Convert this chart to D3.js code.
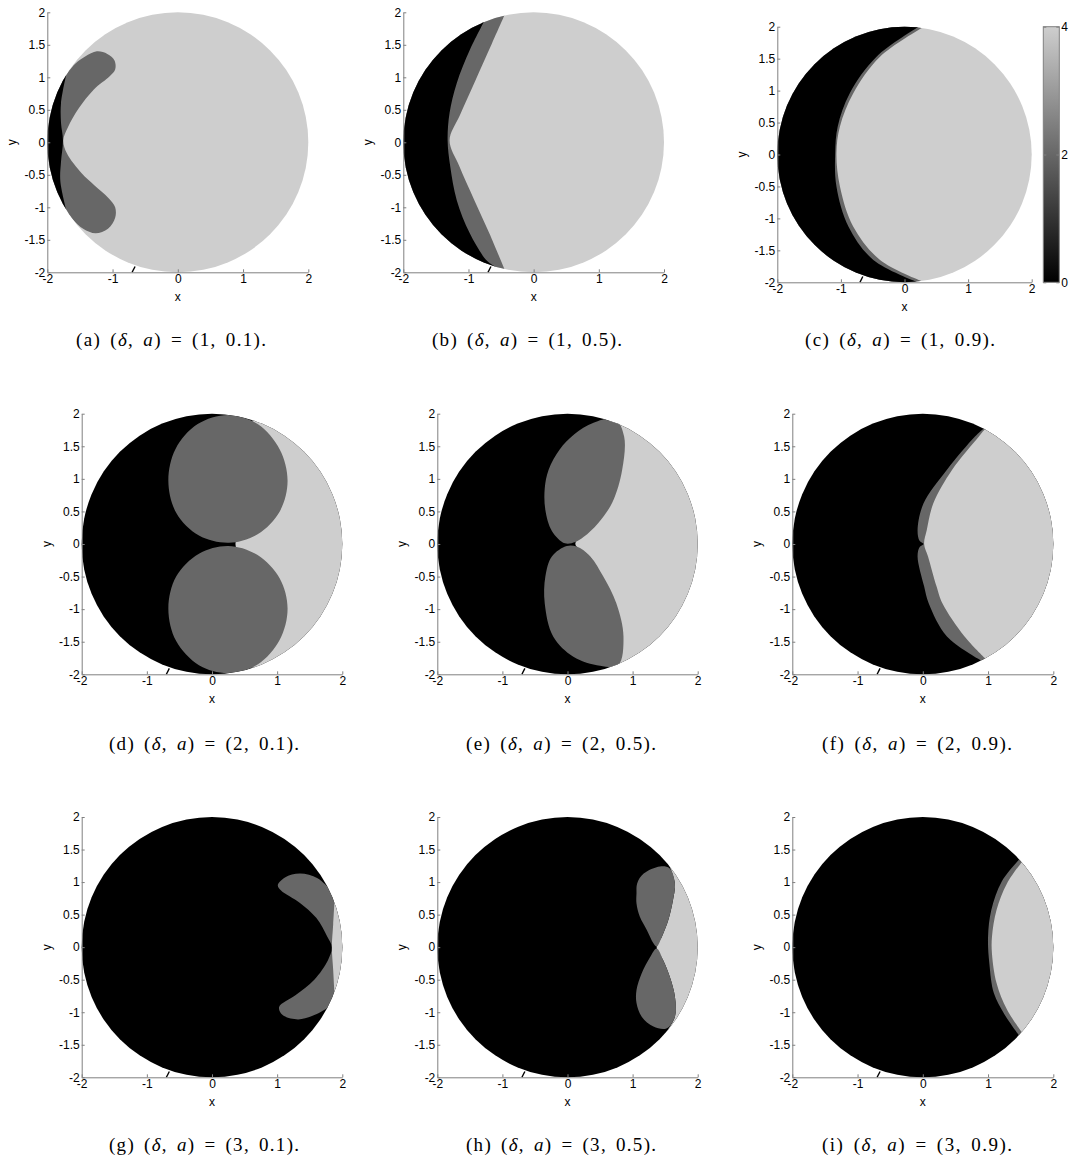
<!DOCTYPE html>
<html>
<head>
<meta charset="utf-8">
<script src="https://cdn.jsdelivr.net/npm/d3@7"></script>
<style>
  body { margin: 0; background: #fff; }
  .axis .tick text { font-family: "Liberation Sans", Arial, sans-serif; font-size: 12px; fill: #000; }
  .axis path, .axis line { stroke: #808080; }
  .lbl { font-family: "Liberation Sans", Arial, sans-serif; font-size: 12px; fill: #000; }
  .cap { font-family: "Liberation Serif", "Times New Roman", serif; font-size: 19px; word-spacing: 3px; fill: #000; }
</style>
</head>
<body>
<svg id="chart" width="1070" height="1164"></svg>
<script>
// panel parameters
const panelIds = ['a', 'b', 'c', 'd', 'e', 'f', 'g', 'h', 'i'];
const deltaValues = ['1', '1', '1', '2', '2', '2', '3', '3', '3'];
const aValues = ['0.1', '0.5', '0.9', '0.1', '0.5', '0.9', '0.1', '0.5', '0.9'];
const baseLevels = [4, 4, 4, 0, 0, 0, 0, 0, 0];

const xTickValues = [-2, -1, 0, 1, 2];
const yTickValues = [-2, -1.5, -1, -0.5, 0, 0.5, 1, 1.5, 2];
const colorbarTicks = [0, 2, 4];

// small stroke at the bottom edge seen in every panel
const strayMark = [[-0.70, -2.0], [-0.655, -1.91]];

// region boundaries, (x, y) in data units
// (a)
const aDarkEdge = [[-1.71, 1.04], [-1.58, 1.20], [-1.42, 1.32], [-1.24, 1.40], [-1.08, 1.36], [-0.97, 1.26], [-0.96, 1.12], [-1.04, 1.02], [-1.29, 0.81], [-1.52, 0.52], [-1.68, 0.24], [-1.755, 0.03], [-1.70, -0.17], [-1.47, -0.48], [-1.28, -0.66], [-1.06, -0.86], [-0.96, -1.00], [-0.96, -1.16], [-1.07, -1.33], [-1.26, -1.40], [-1.45, -1.33], [-1.60, -1.20], [-1.71, -1.06]];
const aDarkOuter = [[-2.3, -1.06], [-2.3, 1.04]];
const aBlackEdge = [[-1.71, 1.04], [-1.79, 0.60], [-1.79, 0.30], [-1.76, 0.03], [-1.79, -0.30], [-1.80, -0.60], [-1.71, -1.04]];
const aBlackOuter = [[-2.3, -1.04], [-2.3, 1.04]];
// (b)
const bDarkEdge = [[-0.44, 1.97], [-0.64, 1.52], [-0.89, 0.96], [-1.13, 0.42], [-1.29, 0.03], [-1.14, -0.37], [-0.91, -0.89], [-0.68, -1.40], [-0.44, -1.97]];
const bDarkOuter = [[-0.44, -2.3], [-2.3, -2.3], [-2.3, 2.3], [-0.44, 2.3]];
const bBlackEdge = [[-0.76, 1.86], [-0.98, 1.42], [-1.18, 0.91], [-1.29, 0.45], [-1.32, 0.03], [-1.28, -0.37], [-1.18, -0.89], [-0.98, -1.40], [-0.72, -1.82], [-0.58, -1.92]];
const bBlackOuter = [[-0.58, -2.3], [-2.3, -2.3], [-2.3, 2.3], [-0.76, 2.3]];
// (c)
const cDarkEdge = [[0.27, 1.98], [-0.385, 1.53], [-0.805, 0.96], [-1.015, 0.44], [-1.07, 0.02], [-1.015, -0.50], [-0.805, -1.13], [-0.385, -1.65], [0.27, -1.98]];
const cDarkOuter = [[0.27, -2.3], [-2.3, -2.3], [-2.3, 2.3], [0.27, 2.3]];
const cBlackEdge = [[0.21, 1.99], [-0.44, 1.53], [-0.86, 0.96], [-1.05, 0.44], [-1.09, 0.02], [-1.07, -0.50], [-0.88, -1.13], [-0.49, -1.65], [0.19, -1.99]];
const cBlackOuter = [[0.19, -2.3], [-2.3, -2.3], [-2.3, 2.3], [0.21, 2.3]];
// (d)
const dLightEdge = [[0.62, 2.3], [0.55, 0.45], [0.36, 0.0], [0.55, -0.45], [0.62, -2.3]];
const dLightOuter = [[2.3, -2.3], [2.3, 2.3]];
const dDarkUpper = [[-0.67, 0.97], [-0.56, 1.46], [-0.22, 1.84], [0.245, 1.98], [0.70, 1.84], [1.04, 1.45], [1.16, 0.97], [1.04, 0.50], [0.70, 0.15], [0.26, 0.02], [-0.20, 0.13], [-0.55, 0.48]];
const dDarkLower = [[-0.67, -0.99], [-0.55, -0.50], [-0.20, -0.15], [0.25, -0.03], [0.70, -0.17], [1.04, -0.53], [1.16, -0.99], [1.04, -1.47], [0.70, -1.85], [0.245, -1.98], [-0.20, -1.86], [-0.55, -1.49]];
// (e)
const eLightEdge = [[0.62, 2.3], [0.66, 1.2], [0.55, 0.60], [0.35, 0.25], [0.12, 0.0], [0.35, -0.20], [0.52, -0.60], [0.66, -1.2], [0.62, -2.3]];
const eLightOuter = [[2.3, -2.3], [2.3, 2.3]];
const eDarkUpper = [[-0.04, 0.01], [-0.24, 0.20], [-0.34, 0.52], [-0.35, 0.85], [-0.29, 1.14], [-0.12, 1.45], [0.10, 1.68], [0.40, 1.86], [0.73, 1.92], [0.87, 1.65], [0.84, 1.14], [0.69, 0.64], [0.47, 0.32], [0.25, 0.11], [0.12, 0.03]];
const eDarkLower = [[-0.01, -0.03], [-0.24, -0.19], [-0.34, -0.50], [-0.35, -0.91], [-0.22, -1.42], [0.09, -1.73], [0.50, -1.87], [0.78, -1.86], [0.86, -1.42], [0.75, -0.91], [0.55, -0.50], [0.35, -0.19], [0.14, -0.04]];
// (f)
const fDarkEdge = [[0.93, 1.77], [0.80, 1.65], [0.37, 1.14], [0.01, 0.62], [-0.08, 0.21], [-0.05, 0.05], [0.01, 0.0], [-0.05, -0.05], [-0.08, -0.19], [0.02, -0.65], [0.09, -0.91], [0.37, -1.42], [0.88, -1.78]];
const fDarkOuter = [[0.88, -2.3], [2.3, -2.3], [2.3, 2.3], [0.93, 2.3]];
const fLightEdge = [[0.95, 1.76], [0.86, 1.65], [0.45, 1.14], [0.16, 0.62], [0.06, 0.21], [0.02, 0.0], [0.08, -0.19], [0.21, -0.65], [0.30, -0.91], [0.64, -1.42], [0.95, -1.75]];
const fLightOuter = [[0.95, -2.3], [2.3, -2.3], [2.3, 2.3], [0.95, 2.3]];
// (g)
const gDarkEdge = [[1.82, 0.88], [1.62, 1.06], [1.35, 1.13], [1.12, 1.07], [1.01, 0.95], [1.06, 0.87], [1.35, 0.68], [1.60, 0.45], [1.77, 0.16], [1.84, 0.0], [1.78, -0.20], [1.57, -0.50], [1.28, -0.74], [1.03, -0.92], [1.08, -1.04], [1.32, -1.11], [1.58, -1.04], [1.78, -0.93]];
const gDarkOuter = [[2.3, -0.93], [2.3, 0.88]];
const gLightEdge = [[1.88, 0.70], [1.86, 0.35], [1.84, 0.0], [1.86, -0.35], [1.88, -0.70]];
const gLightOuter = [[2.3, -0.70], [2.3, 0.70]];
// (h)
const hLightEdge = [[1.57, 1.24], [1.65, 0.98], [1.62, 0.72], [1.55, 0.42], [1.45, 0.16], [1.37, 0.0], [1.47, -0.20], [1.57, -0.45], [1.65, -0.76], [1.65, -1.07], [1.52, -1.30]];
const hLightOuter = [[2.3, -1.30], [2.3, 1.24]];
const hDarkUpper = [[1.06, 0.83], [1.07, 0.98], [1.17, 1.13], [1.42, 1.24], [1.57, 1.21], [1.65, 0.98], [1.62, 0.72], [1.55, 0.42], [1.45, 0.16], [1.37, 0.01], [1.32, 0.06], [1.22, 0.26], [1.11, 0.47], [1.06, 0.67]];
const hDarkLower = [[1.37, -0.02], [1.27, -0.15], [1.14, -0.40], [1.06, -0.66], [1.06, -0.86], [1.14, -1.07], [1.32, -1.22], [1.52, -1.25], [1.65, -1.07], [1.65, -0.76], [1.57, -0.45], [1.47, -0.20]];
// (i)
const iDarkEdge = [[1.48, 1.35], [1.21, 1.01], [1.05, 0.57], [1.00, 0.16], [1.02, -0.25], [1.09, -0.71], [1.25, -1.03], [1.47, -1.35]];
const iDarkOuter = [[1.47, -2.3], [2.3, -2.3], [2.3, 2.3], [1.48, 2.3]];
const iLightEdge = [[1.52, 1.31], [1.29, 0.98], [1.13, 0.57], [1.06, 0.16], [1.06, -0.10], [1.13, -0.55], [1.29, -0.96], [1.52, -1.31]];
const iLightOuter = [[1.52, -2.3], [2.3, -2.3], [2.3, 2.3], [1.52, 2.3]];

// layers painted over the base colour, in order
const panelLayers = [
  [{ level: 2, edge: aDarkEdge, outer: aDarkOuter }, { level: 0, edge: aBlackEdge, outer: aBlackOuter }],
  [{ level: 2, edge: bDarkEdge, outer: bDarkOuter }, { level: 0, edge: bBlackEdge, outer: bBlackOuter }],
  [{ level: 2, edge: cDarkEdge, outer: cDarkOuter }, { level: 0, edge: cBlackEdge, outer: cBlackOuter }],
  [{ level: 4, edge: dLightEdge, outer: dLightOuter }, { level: 2, edge: dDarkUpper }, { level: 2, edge: dDarkLower }],
  [{ level: 4, edge: eLightEdge, outer: eLightOuter }, { level: 2, edge: eDarkUpper }, { level: 2, edge: eDarkLower }],
  [{ level: 2, edge: fDarkEdge, outer: fDarkOuter }, { level: 4, edge: fLightEdge, outer: fLightOuter }],
  [{ level: 2, edge: gDarkEdge, outer: gDarkOuter }, { level: 4, edge: gLightEdge, outer: gLightOuter }],
  [{ level: 4, edge: hLightEdge, outer: hLightOuter }, { level: 2, edge: hDarkUpper }, { level: 2, edge: hDarkLower }],
  [{ level: 2, edge: iDarkEdge, outer: iDarkOuter }, { level: 4, edge: iLightEdge, outer: iLightOuter }]
];

// page layout (pixels)
const panelBoxes = [
  { left: 47.3, top: 12.3, w: 261, h: 260, capX: 171, capY: 346 },
  { left: 403.3, top: 12.3, w: 260.7, h: 260, capX: 527, capY: 346 },
  { left: 777.3, top: 26.7, w: 254.4, h: 255.6, capX: 900, capY: 346 },
  { left: 81.7, top: 413.7, w: 260.6, h: 260.6, capX: 204, capY: 750 },
  { left: 437.3, top: 413.7, w: 260.4, h: 260.6, capX: 561, capY: 750 },
  { left: 792.3, top: 413.7, w: 261, h: 260.6, capX: 917, capY: 750 },
  { left: 81.7, top: 817, w: 260.6, h: 260.3, capX: 204, capY: 1151 },
  { left: 437.3, top: 817, w: 260.4, h: 260.3, capX: 561, capY: 1151 },
  { left: 792.3, top: 817, w: 261, h: 260.3, capX: 917, capY: 1151 }
];
const colorbarBox = { left: 1043.3, top: 26.7, w: 16, h: 255.6 };
const captionWidth = 190;

const svg = d3.select('#chart');
svg.append('rect').attr('width', 1070).attr('height', 1164).attr('fill', '#fff');

const color = d3.scaleLinear().domain([0, 4]).range(['#000000', '#cecece']);
const fmt = d => String(d);

panelIds.forEach((id, k) => {
  const b = panelBoxes[k];
  const x = d3.scaleLinear().domain([-2, 2]).range([b.left, b.left + b.w]);
  const y = d3.scaleLinear().domain([-2, 2]).range([b.top + b.h, b.top]);

  const smooth = d3.line().x(d => x(d[0])).y(d => y(d[1])).curve(d3.curveCatmullRom.alpha(0.5));
  const closed = d3.line().x(d => x(d[0])).y(d => y(d[1])).curve(d3.curveCatmullRomClosed.alpha(0.5));
  const straight = d3.line().x(d => x(d[0])).y(d => y(d[1]));

  const clipId = 'disk-' + id;
  svg.append('clipPath').attr('id', clipId)
    .append('ellipse')
    .attr('cx', x(0)).attr('cy', y(0))
    .attr('rx', x(2) - x(0)).attr('ry', y(-2) - y(0));

  const g = svg.append('g');
  g.append('ellipse')
    .attr('cx', x(0)).attr('cy', y(0))
    .attr('rx', x(2) - x(0)).attr('ry', y(-2) - y(0))
    .attr('fill', color(baseLevels[k]));

  g.selectAll('path.region')
    .data(panelLayers[k])
    .join('path')
    .attr('class', 'region')
    .attr('clip-path', `url(#${clipId})`)
    .attr('fill', d => color(d.level))
    .attr('d', d => d.outer
      ? smooth(d.edge) + straight(d.outer).replace(/^M/, 'L') + 'Z'
      : closed(d.edge));

  g.append('path')
    .attr('d', straight(strayMark))
    .attr('stroke', '#000').attr('stroke-width', 1.4).attr('fill', 'none');

  // axes, ticks pointing inward, no box
  svg.append('g').attr('class', 'axis')
    .attr('transform', `translate(0,${y(-2)})`)
    .call(d3.axisBottom(x).tickValues(xTickValues).tickFormat(fmt)
      .tickSizeInner(-3).tickSizeOuter(0).tickPadding(2));
  svg.append('g').attr('class', 'axis')
    .attr('transform', `translate(${x(-2)},0)`)
    .call(d3.axisLeft(y).tickValues(yTickValues).tickFormat(fmt)
      .tickSizeInner(-3).tickSizeOuter(0).tickPadding(2));
  svg.selectAll('.axis').attr('font-family', null).attr('font-size', null);

  svg.append('text').attr('class', 'lbl')
    .attr('x', x(0)).attr('y', y(-2) + 29)
    .attr('text-anchor', 'middle').text('x');
  svg.append('text').attr('class', 'lbl')
    .attr('transform', `translate(${x(-2) - 31},${y(0)}) rotate(-90)`)
    .attr('text-anchor', 'middle').text('y');

  const cap = svg.append('text').attr('class', 'cap')
    .attr('x', b.capX - captionWidth / 2).attr('y', b.capY)
    .attr('textLength', captionWidth).attr('lengthAdjust', 'spacing');
  cap.append('tspan').text(`(${id}) (`);
  cap.append('tspan').attr('font-style', 'italic').text('δ');
  cap.append('tspan').text(', ');
  cap.append('tspan').attr('font-style', 'italic').text('a');
  cap.append('tspan').text(`) = (${deltaValues[k]}, ${aValues[k]}).`);
});

// colour bar next to panel (c)
const defs = svg.append('defs');
const grad = defs.append('linearGradient').attr('id', 'cbar')
  .attr('x1', 0).attr('y1', 1).attr('x2', 0).attr('y2', 0);
grad.selectAll('stop').data(colorbarTicks).join('stop')
  .attr('offset', d => d / 4)
  .attr('stop-color', d => color(d));

const cb = colorbarBox;
const cy = d3.scaleLinear().domain([0, 4]).range([cb.top + cb.h, cb.top]);
svg.append('rect')
  .attr('x', cb.left).attr('y', cy(4))
  .attr('width', cb.w).attr('height', cy(0) - cy(4))
  .attr('fill', 'url(#cbar)').attr('stroke', '#808080').attr('stroke-width', 1);
svg.append('g').attr('class', 'axis')
  .attr('transform', `translate(${cb.left + cb.w},0)`)
  .call(d3.axisRight(cy).tickValues(colorbarTicks).tickFormat(fmt)
    .tickSizeInner(-3).tickSizeOuter(0).tickPadding(2))
  .attr('font-family', null).attr('font-size', null)
  .select('.domain').remove();
svg.append('g').attr('class', 'axis')
  .attr('transform', `translate(${cb.left},0)`)
  .call(d3.axisLeft(cy).tickValues(colorbarTicks).tickFormat('')
    .tickSizeInner(-3).tickSizeOuter(0))
  .select('.domain').remove();
</script>
</body>
</html>
